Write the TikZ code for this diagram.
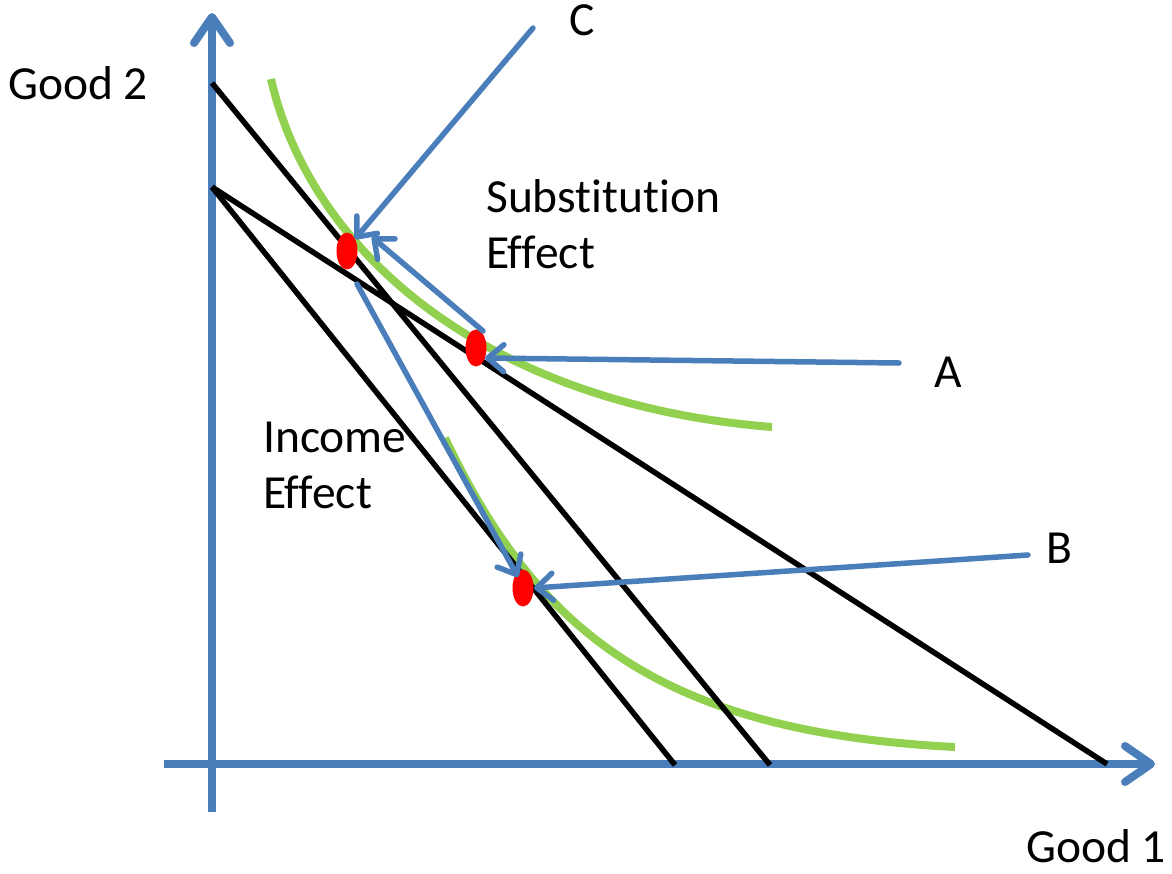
\documentclass[tikz,border=0pt]{standalone}
\usepackage{fontspec}
\setmainfont{Carlito}[Ligatures=NoCommon]
\usetikzlibrary{arrows.meta,shapes.geometric}
\definecolor{axblue}{RGB}{74,126,187}
\definecolor{icgreen}{RGB}{146,208,80}
\begin{document}
\begin{tikzpicture}[x=1pt,y=-1pt,
  axisline/.style={draw=axblue,line width=8pt,-{Straight Barb[length=26pt,width=36pt,round]}},
  budget/.style={draw=black,line width=5.5pt},
  icurve/.style={draw=icgreen,line width=8pt},
  pointer/.style={draw=axblue,line width=5.5pt,line cap=round,-{Straight Barb[length=16pt,width=27pt,round]}},
  dot/.style={ellipse,fill=red,draw=none,minimum width=21pt,minimum height=37pt,inner sep=0pt},
  lbl/.style={anchor=base west,inner sep=0pt,font=\fontsize{47.5}{56}\selectfont,text=black}]
\useasboundingbox (0,0) rectangle (1172,873);
% axes
\coordinate (yb) at (212,812);
\coordinate (yt) at (212,13);
\coordinate (xl) at (164,764);
\coordinate (xr) at (1155,764);
\draw[axisline] (yb) -- (yt);
\draw[axisline] (xl) -- (xr);
% indifference curves
\coordinate (u0) at (271,79);
\coordinate (u1) at (311.7,256.6);
\coordinate (u2) at (492,405);
\coordinate (u3) at (772,427);
\coordinate (l0) at (445,438);
\coordinate (l1) at (535,627);
\coordinate (l2) at (655,732);
\coordinate (l3) at (955,747);
\draw[icurve] (u0) .. controls (u1) and (u2) .. (u3);
\draw[icurve] (l0) .. controls (l1) and (l2) .. (l3);
% budget lines
\coordinate (b1s) at (212,83);
\coordinate (b1e) at (770,765);
\coordinate (b2s) at (212,187);
\coordinate (b2e) at (1107,764);
\coordinate (b3e) at (675,765);
\draw[budget] (b1s) -- (b1e);
\draw[budget] (b2s) -- (b2e);
\draw[budget] (b2s) -- (b3e);
% points
\node[dot] (pc) at (347,251) {};
\node[dot] (pa) at (476,348) {};
\node[dot] (pb) at (523,588) {};
% labels
\node[lbl] (good2) at (8,99) {Good 2};
\node[lbl] (good1) at (1026,862) {Good 1};
\node[lbl] (lc) at (569,35) {C};
\node[lbl] (la) at (934,387) {A};
\node[lbl] (lb) at (1046,563) {B};
\node[lbl] (sub1) at (486,212) {Substitution};
\node[lbl] (sub2) at (486,268) {Effect};
\node[lbl] (inc1) at (263,452) {Income};
\node[lbl] (inc2) at (263,508) {Effect};
% pointers
\coordinate (ct) at (533,28);
\coordinate (ch) at (355,239);
\coordinate (at) at (899,363);
\coordinate (ah) at (485,358);
\coordinate (bt) at (1028,555);
\coordinate (bh) at (534,588);
\coordinate (st) at (483,331);
\coordinate (sh) at (372,237);
\coordinate (it) at (357,284);
\coordinate (ih) at (518,577);
\draw[pointer] (ct) -- (ch);
\draw[pointer] (at) -- (ah);
\draw[pointer] (bt) -- (bh);
\draw[pointer] (st) -- (sh);
\draw[pointer] (it) -- (ih);
\end{tikzpicture}
\end{document}
